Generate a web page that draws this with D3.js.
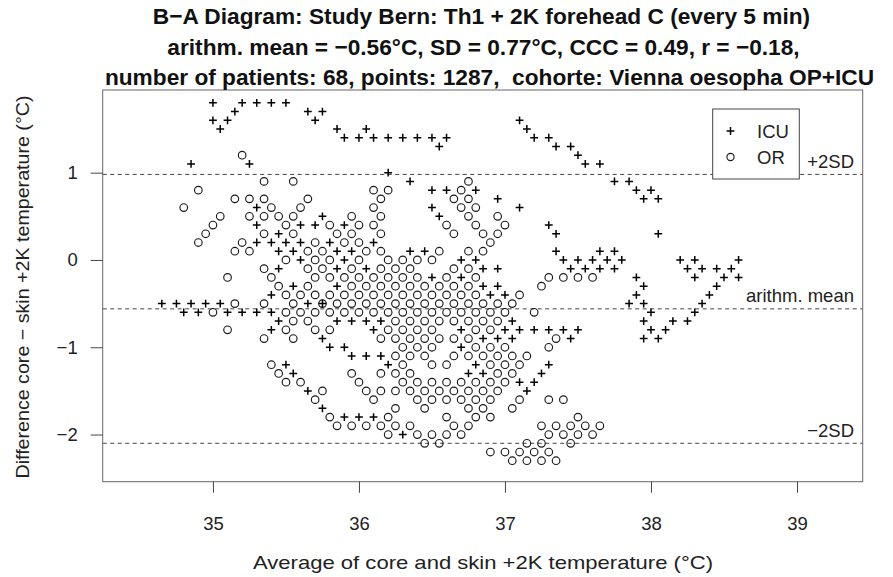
<!DOCTYPE html>
<html><head><meta charset="utf-8">
<script src="https://cdn.jsdelivr.net/npm/d3@7/dist/d3.min.js"></script>
<style>body{margin:0;background:#fff}svg{display:block}text{white-space:pre}</style>
</head><body>
<svg id="c" width="893" height="577"></svg>
<script>
// ---- data: each row = [difference (°C), [averages (°C) ...]] ----
const orRows = [
 [1.2,[35.2]],
 [0.9,[35.35,35.55,36.75]],
 [0.8,[34.9,36.1,36.2,36.7]],
 [0.7,[35.15,35.25,35.35,35.65,36.15,36.65,36.75]],
 [0.6,[34.8,35.4,35.6,36.1,36.7,36.8]],
 [0.5,[35.05,35.25,35.35,35.45,35.55,35.95,36.15,36.75,36.95]],
 [0.4,[35.0,35.5,35.8,36.0,36.1,36.6,36.8,37.0]],
 [0.3,[34.95,35.35,35.55,35.85,35.95,36.15,36.65,36.85,36.95]],
 [0.2,[34.9,35.2,35.7,35.9,36.0,36.9]],
 [0.1,[35.15,35.25,35.65,35.75,36.05,36.15,36.55,36.75,36.85]],
 [0.0,[35.5,35.7,35.8,36.0,36.2,36.3,36.4,36.5]],
 [-0.1,[35.35,35.65,35.75,35.95,36.15,36.25,36.35,36.65,36.75]],
 [-0.2,[35.1,35.4,35.7,35.8,35.9,36.0,36.1,36.2,36.3,36.4,36.6,36.8,37.3,37.4,37.5,37.6]],
 [-0.3,[35.45,35.65,35.95,36.05,36.15,36.25,36.35,36.45,36.55,36.65,36.75,37.25]],
 [-0.4,[35.5,35.6,35.7,35.8,35.9,36.0,36.1,36.2,36.3,36.4,36.5,36.6,36.7,36.8,37.1]],
 [-0.5,[35.15,35.35,35.55,35.75,35.85,35.95,36.05,36.15,36.25,36.35,36.45,36.55,36.65,36.75,36.85,36.95,37.05]],
 [-0.6,[35.0,35.5,35.6,35.7,35.8,35.9,36.0,36.1,36.2,36.3,36.4,36.5,36.6,36.7,36.8,36.9,37.0,37.2]],
 [-0.7,[35.55,35.65,36.25,36.35,36.45,36.55,36.65,36.75,36.85,36.95]],
 [-0.8,[35.1,35.5,35.7,35.8,36.2,36.3,36.4,36.5,36.8,36.9]],
 [-0.9,[35.35,35.55,36.15,36.25,36.35,36.45,36.55,36.65,36.75,37.35]],
 [-1.0,[36.3,36.4,36.5,36.8,36.9,37.0,37.3]],
 [-1.1,[36.25,36.35,36.45,36.65,36.75,36.85,36.95,37.05,37.15]],
 [-1.2,[35.4,36.3,36.5,36.6,36.9,37.0,37.1]],
 [-1.3,[35.45,35.95,36.15,36.25,36.35,36.95,37.05]],
 [-1.4,[35.5,35.6,36.0,36.3,36.4,36.5,36.6,36.7,36.8,36.9,37.0]],
 [-1.5,[35.75,36.05,36.15,36.25,36.35,36.45,36.55,36.65,36.75,36.85,36.95]],
 [-1.6,[35.7,36.1,36.4,36.5,36.6,36.7,36.8,36.9,37.1,37.3,37.4]],
 [-1.7,[36.25,36.45,36.75,36.85,37.05]],
 [-1.8,[35.8,36.2,36.6,36.8,36.9,37.5]],
 [-1.9,[35.85,35.95,36.05,36.15,36.25,36.35,36.65,36.75,37.25,37.35,37.45,37.55,37.65]],
 [-2.0,[36.2,36.4,36.5,36.6,36.7,37.3,37.4,37.5,37.6]],
 [-2.1,[36.45,36.55,37.15,37.25,37.45]],
 [-2.2,[36.9,37.0,37.1,37.2,37.3]],
 [-2.3,[37.05,37.15,37.25,37.35]]
];
const icuRows = [
 [1.8,[35.0,35.2,35.3,35.4,35.5]],
 [1.7,[35.15,35.65,35.75]],
 [1.6,[35.0,35.1,35.7,37.1]],
 [1.5,[35.05,35.85,36.05,37.15]],
 [1.4,[35.9,36.0,36.1,36.2,36.3,36.4,36.5,36.6,37.2,37.3]],
 [1.3,[36.55,37.35,37.45]],
 [1.2,[37.5]],
 [1.1,[34.85,35.25,37.55,37.65]],
 [1.0,[36.2]],
 [0.9,[36.35,37.75,37.85]],
 [0.8,[36.5,36.6,36.8,37.9,38.0]],
 [0.7,[36.95,37.95,38.05]],
 [0.6,[35.3,36.5,37.1]],
 [0.5,[35.75,36.55]],
 [0.4,[35.3,35.6,35.7,35.9,37.3]],
 [0.3,[35.45,37.35,38.05]],
 [0.2,[35.3,35.4,35.5,35.6,35.8,36.1]],
 [0.1,[35.45,35.55,35.85,35.95,36.35,36.45,37.35,37.65,37.75]],
 [0.0,[35.6,35.9,36.7,36.8,37.4,37.5,37.6,37.7,37.8,38.2,38.3,38.6]],
 [-0.1,[35.45,35.85,36.05,36.85,36.95,37.45,37.55,37.65,37.75,38.25,38.35,38.45,38.55]],
 [-0.2,[36.5,36.7,37.9,38.3,38.5,38.6]],
 [-0.3,[35.55,35.85,36.85,36.95,37.95,38.45]],
 [-0.4,[35.4,36.9,37.0,37.9,38.4]],
 [-0.5,[34.65,34.75,34.85,34.95,35.05,35.65,35.75,37.85,37.95,38.35]],
 [-0.6,[34.8,34.9,35.1,35.2,35.3,35.4,38.0,38.3]],
 [-0.7,[35.45,35.85,35.95,36.05,36.15,37.05,37.95,38.15,38.25]],
 [-0.8,[35.4,36.1,36.7,37.0,37.1,37.2,37.3,37.4,37.5,38.0,38.1]],
 [-0.9,[35.75,36.85,36.95,37.05,37.45,37.95,38.05]],
 [-1.0,[35.8,35.9,36.7]],
 [-1.1,[35.95,36.05,36.15]],
 [-1.2,[35.5,36.2,36.8,37.3]],
 [-1.3,[35.55,36.75,36.85,37.25]],
 [-1.4,[37.1,37.2]],
 [-1.5,[35.65,37.15]],
 [-1.7,[35.75]],
 [-1.8,[35.9,36.0,36.1]],
 [-2.0,[36.3]]
];
const xTicks = [35,36,37,38,39];
const yTicks = [-2,-1,0,1];
const meanDiff = -0.56, sdDiff = 0.77;
const titleLines = [
 "B\u2212A Diagram: Study Bern: Th1 + 2K forehead C (every 5 min)",
 "arithm. mean = \u22120.56\u00B0C, SD = 0.77\u00B0C, CCC = 0.49, r = \u22120.18,",
 "number of patients: 68, points: 1287,  cohorte: Vienna oesopha OP+ICU"
];
const xTitle = "Average of core and skin +2K temperature (\u00B0C)";
const yTitle = "Difference core \u2212 skin +2K temperature (\u00B0C)";
const legendItems = [["ICU","plus"],["OR","circle"]];

// ---- layout ----
const FONT = "'Liberation Sans', Arial, Helvetica, sans-serif";
const M = {l:102.7, r:862.7, t:90, b:481.7};
const svg = d3.select("#c");
svg.append("rect").attr("width",893).attr("height",577).attr("fill","#fff");
const x = d3.scaleLinear().domain([34.245, 39.45]).range([M.l, M.r]);
const y = d3.scaleLinear().domain([-2.54, 1.947]).range([M.b, M.t]);

const flat = rows => rows.flatMap(([d, xs]) => xs.map(a => ({a, d})));
const orPts = flat(orRows), icuPts = flat(icuRows);

// reference lines
const lines = [
 {v: meanDiff + 2*sdDiff, label: "+2SD"},
 {v: meanDiff, label: "arithm. mean"},
 {v: meanDiff - 2*sdDiff, label: "\u22122SD"}
];
svg.append("g").selectAll("line").data(lines).join("line")
 .attr("x1", M.l).attr("x2", M.r)
 .attr("y1", d => y(d.v)).attr("y2", d => y(d.v))
 .attr("stroke","#444").attr("stroke-width",1).attr("stroke-dasharray","4,3.5");
svg.append("g").selectAll("text").data(lines).join("text")
 .attr("x", 854).attr("y", d => y(d.v) - 6.5)
 .attr("text-anchor","end").attr("font-family",FONT).attr("font-size",18.5)
 .attr("fill","#222").text(d => d.label);

// points
const plusPath = "M-3.9,0H3.9M0,-3.9V3.9";
svg.append("g").selectAll("circle").data(orPts).join("circle")
 .attr("cx", d => x(d.a)).attr("cy", d => y(d.d)).attr("r", 3.8)
 .attr("fill","none").attr("stroke","#1a1a1a").attr("stroke-width",1.15);
svg.append("g").selectAll("path").data(icuPts).join("path")
 .attr("transform", d => `translate(${x(d.a)},${y(d.d)})`)
 .attr("d", plusPath).attr("stroke","#000").attr("stroke-width",1.5);

// box
svg.append("rect").attr("x",M.l).attr("y",M.t).attr("width",M.r-M.l).attr("height",M.b-M.t)
 .attr("fill","none").attr("stroke","#666").attr("stroke-width",1);

// axes
const fmt = d => d < 0 ? "\u2212" + Math.abs(d) : String(d);
const gx = svg.append("g").attr("transform",`translate(0,${M.b})`)
 .call(d3.axisBottom(x).tickValues(xTicks).tickSize(11).tickPadding(24).tickFormat(fmt));
const gy = svg.append("g").attr("transform",`translate(${M.l},0)`)
 .call(d3.axisLeft(y).tickValues(yTicks).tickSize(12).tickPadding(13).tickFormat(fmt));
[gx, gy].forEach(g => {
 g.select(".domain").remove();
 g.selectAll(".tick line").attr("stroke","#444");
 g.selectAll(".tick text").attr("font-family",FONT).attr("font-size",18.5).attr("fill","#222");
});

// legend
const lg = svg.append("g");
lg.append("rect").attr("x",712.7).attr("y",109).attr("width",86.6).attr("height",70)
 .attr("fill","#fff").attr("stroke","#444").attr("stroke-width",1);
legendItems.forEach(([lab, sym], i) => {
 const cy = 131 + i*26;
 if (sym === "plus") lg.append("path").attr("transform",`translate(730.5,${cy})`).attr("d",plusPath)
   .attr("stroke","#000").attr("stroke-width",1.5);
 else lg.append("circle").attr("cx",730.5).attr("cy",cy).attr("r",3.6).attr("fill","none")
   .attr("stroke","#1a1a1a").attr("stroke-width",1.15);
 lg.append("text").attr("x",757).attr("y",cy+6.5).attr("font-family",FONT).attr("font-size",18.5)
   .attr("fill","#222").text(lab);
});

// titles
const titleX = [481.5, 483.5, 489.5];
svg.append("g").selectAll("text").data(titleLines).join("text")
 .attr("x", (d,i) => titleX[i]).attr("y", (d,i) => 24 + i*30.5).attr("text-anchor","middle")
 .attr("font-family",FONT).attr("font-weight","bold").attr("font-size",22.7).attr("fill","#111")
 .attr("xml:space","preserve")
 .text(d => d);
svg.append("text").attr("x",483).attr("y",569).attr("text-anchor","middle")
 .attr("font-family",FONT).attr("font-size",18.5).attr("fill","#222")
 .attr("textLength",460).attr("lengthAdjust","spacingAndGlyphs").text(xTitle);
svg.append("text").attr("transform","translate(28.5,287) rotate(-90)").attr("text-anchor","middle")
 .attr("font-family",FONT).attr("font-size",18.5).attr("fill","#222")
 .attr("textLength",383).attr("lengthAdjust","spacingAndGlyphs").text(yTitle);
</script>
</body></html>
